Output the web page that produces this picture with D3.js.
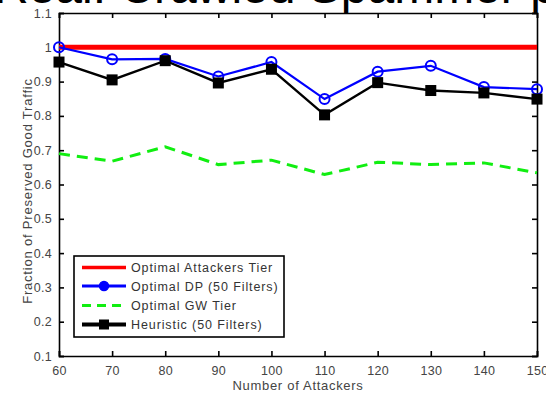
<!DOCTYPE html>
<html>
<head>
<meta charset="utf-8">
<script src="https://cdn.jsdelivr.net/npm/d3@7"></script>
<style>
  html, body { margin: 0; padding: 0; background: #fff; }
  svg { display: block; }
  text { font-family: "Liberation Sans", Arial, Helvetica, sans-serif; }
</style>
</head>
<body>
<svg id="chart" width="546" height="394"></svg>
<script>
// Number of attackers on the x axis
const attackers = [60, 70, 80, 90, 100, 110, 120, 130, 140, 150];

// Fraction of preserved good traffic for each strategy
const optimalAttackersTier = [1.0, 1.0, 1.0, 1.0, 1.0, 1.0, 1.0, 1.0, 1.0, 1.0];
const optimalDP = [1.0, 0.965, 0.966, 0.915, 0.957, 0.849, 0.929, 0.946, 0.884, 0.878];
const optimalGWTier = [0.69, 0.668, 0.71, 0.658, 0.671, 0.629, 0.665, 0.658, 0.663, 0.634];
const heuristic = [0.957, 0.905, 0.961, 0.896, 0.936, 0.803, 0.897, 0.874, 0.867, 0.849];

const seriesNames = ["Optimal Attackers Tier", "Optimal DP (50 Filters)", "Optimal GW Tier", "Heuristic (50 Filters)"];

const xTicks = [60, 70, 80, 90, 100, 110, 120, 130, 140, 150];
const yTicks = [0.1, 0.2, 0.3, 0.4, 0.5, 0.6, 0.7, 0.8, 0.9, 1, 1.1];

const titleText = "Real: Crawled Spammer prefixes, by policy";
const xTitle = "Number of Attackers";
const yTitle = "Fraction of Preserved Good Traffic";

const svg = d3.select("#chart");

const plot = { left: 59, right: 537, top: 13, bottom: 356 };

const x = d3.scaleLinear().domain([60, 150]).range([plot.left, plot.right]);
const y = d3.scaleLinear().domain([0.1, 1.1]).range([plot.bottom, plot.top]);

// Slide heading, mostly above the visible area
svg.append("text")
  .attr("x", -6).attr("y", 3)
  .attr("font-size", 48)
  .attr("fill", "#000")
  .text(titleText);

// White plotting box
svg.append("rect")
  .attr("x", plot.left).attr("y", plot.top)
  .attr("width", plot.right - plot.left).attr("height", plot.bottom - plot.top)
  .attr("fill", "#fff");

const tickLen = 5;
const textColor = "#444";

// Axes with inward ticks on all four sides
const axBottom = svg.append("g").attr("transform", `translate(0,${plot.bottom})`)
  .call(d3.axisBottom(x).tickValues(xTicks).tickSize(-tickLen).tickPadding(10).tickFormat(d3.format("d")));
const axTop = svg.append("g").attr("transform", `translate(0,${plot.top})`)
  .call(d3.axisTop(x).tickValues(xTicks).tickSize(-tickLen).tickFormat(""));
const axLeft = svg.append("g").attr("transform", `translate(${plot.left},0)`)
  .call(d3.axisLeft(y).tickValues(yTicks).tickSize(-tickLen).tickPadding(7).tickFormat(d => d3.format("")(+d.toFixed(1))));
const axRight = svg.append("g").attr("transform", `translate(${plot.right},0)`)
  .call(d3.axisRight(y).tickValues(yTicks).tickSize(-tickLen).tickFormat(""));

[axBottom, axTop, axLeft, axRight].forEach(g => {
  g.select(".domain").attr("stroke", "#000").attr("stroke-width", 1.6);
  g.selectAll(".tick line").attr("stroke", "#000").attr("stroke-width", 1.6);
  g.selectAll(".tick text")
    .attr("fill", textColor)
    .attr("font-size", 12.5)
    .attr("font-family", "Liberation Sans, Arial, sans-serif")
    .attr("letter-spacing", 0.3);
});

// Axis titles
svg.append("text")
  .attr("x", (plot.left + plot.right) / 2).attr("y", 390)
  .attr("text-anchor", "middle")
  .attr("font-size", 13)
  .attr("letter-spacing", 0.7)
  .attr("fill", textColor)
  .text(xTitle);

svg.append("text")
  .attr("transform", `translate(32,${191}) rotate(-90)`)
  .attr("text-anchor", "middle")
  .attr("font-size", 13)
  .attr("letter-spacing", 0.8)
  .attr("fill", textColor)
  .text(yTitle);

const line = d3.line().x(d => x(d[0])).y(d => y(d[1]));
const pts = vals => attackers.map((a, i) => [a, vals[i]]);

const clip = svg.append("defs").append("clipPath").attr("id", "plotclip");
clip.append("rect").attr("x", plot.left).attr("y", plot.top)
  .attr("width", plot.right - plot.left).attr("height", plot.bottom - plot.top);

const g = svg.append("g");

// Optimal Attackers Tier
g.append("path").datum(pts(optimalAttackersTier))
  .attr("d", line).attr("fill", "none")
  .attr("stroke", "#ff0000").attr("stroke-width", 5)
  .attr("clip-path", "url(#plotclip)");

// Optimal DP (50 Filters)
g.append("path").datum(pts(optimalDP))
  .attr("d", line).attr("fill", "none")
  .attr("stroke", "#0000ff").attr("stroke-width", 2.2);
g.selectAll("circle.dp").data(pts(optimalDP)).join("circle")
  .attr("class", "dp")
  .attr("cx", d => x(d[0])).attr("cy", d => y(d[1])).attr("r", 5)
  .attr("fill", "none").attr("stroke", "#0000ff").attr("stroke-width", 2);

// Optimal GW Tier
g.append("path").datum(pts(optimalGWTier))
  .attr("d", line).attr("fill", "none")
  .attr("stroke", "#11ee11").attr("stroke-width", 3)
  .attr("stroke-dasharray", "11,7");

// Heuristic (50 Filters)
g.append("path").datum(pts(heuristic))
  .attr("d", line).attr("fill", "none")
  .attr("stroke", "#000").attr("stroke-width", 2.4);
const sq = 11;
g.selectAll("rect.heur").data(pts(heuristic)).join("rect")
  .attr("class", "heur")
  .attr("x", d => x(d[0]) - sq / 2).attr("y", d => y(d[1]) - sq / 2)
  .attr("width", sq).attr("height", sq)
  .attr("fill", "#000");

// Legend
const leg = svg.append("g");
leg.append("rect")
  .attr("x", 74).attr("y", 256).attr("width", 210).attr("height", 81)
  .attr("fill", "#fff").attr("stroke", "#000").attr("stroke-width", 1.6);

const rows = [267.5, 286, 305.5, 324.5];
const styles = [
  { stroke: "#ff0000", width: 3.5, dash: null, marker: null },
  { stroke: "#0000ff", width: 3, dash: null, marker: "circle" },
  { stroke: "#11ee11", width: 3, dash: "9,6", marker: null },
  { stroke: "#000", width: 4, dash: null, marker: "square" }
];
seriesNames.forEach((name, i) => {
  const st = styles[i];
  const yy = rows[i];
  leg.append("line")
    .attr("x1", 82).attr("x2", 126).attr("y1", yy).attr("y2", yy)
    .attr("stroke", st.stroke).attr("stroke-width", st.width)
    .attr("stroke-dasharray", st.dash);
  if (st.marker === "circle") {
    leg.append("circle").attr("cx", 104).attr("cy", yy).attr("r", 4.5)
      .attr("fill", "#0000ff").attr("stroke", "#0000ff").attr("stroke-width", 1.5);
  } else if (st.marker === "square") {
    leg.append("rect").attr("x", 104 - 5).attr("y", yy - 5).attr("width", 10).attr("height", 10)
      .attr("fill", "#000");
  }
  leg.append("text")
    .attr("x", 131).attr("y", yy + 4.5)
    .attr("font-size", 12.5)
    .attr("letter-spacing", 0.9)
    .attr("fill", "#333")
    .text(name);
});
</script>
</body>
</html>
